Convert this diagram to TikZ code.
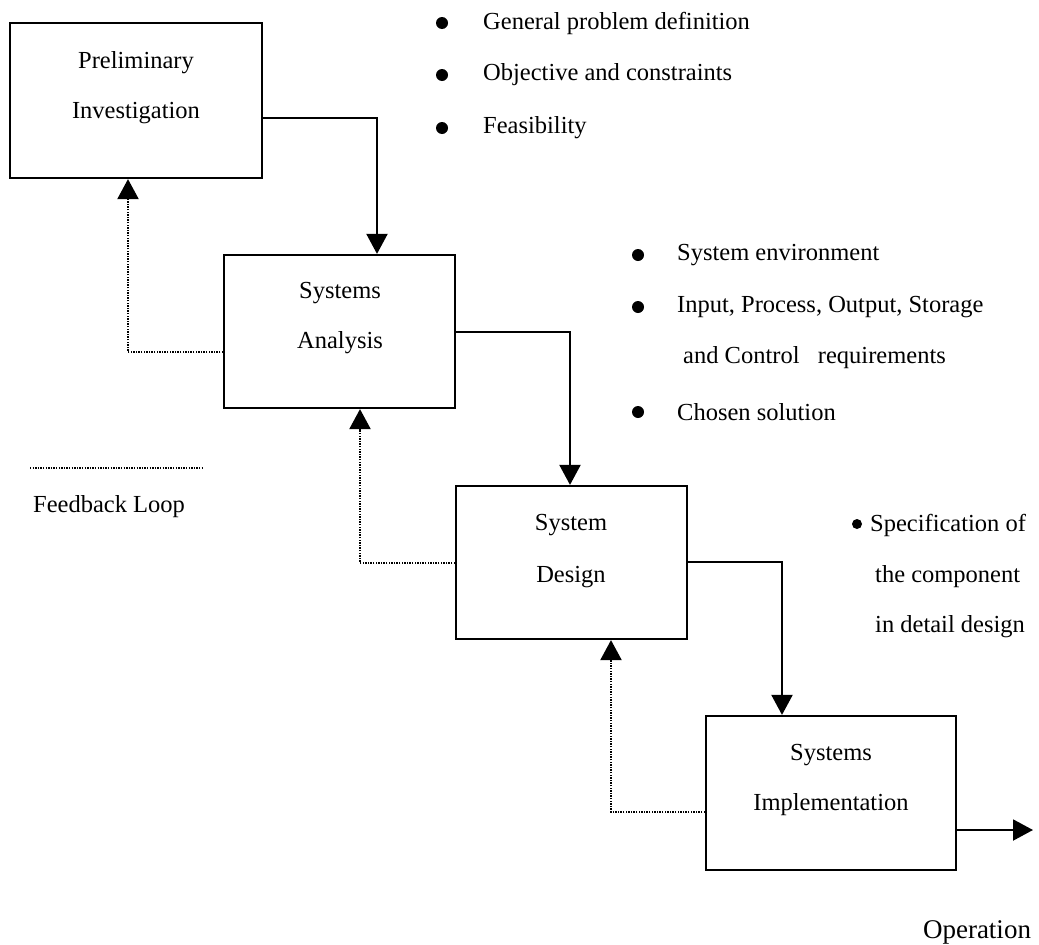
\documentclass[tikz,border=0pt]{standalone}
\usepackage{fontspec}
\setmainfont{Liberation Serif}
\usetikzlibrary{arrows.meta}
\begin{document}
\begin{tikzpicture}[x=1pt,y=-1pt,
  stage/.style={draw,line width=2.2pt,inner sep=0pt},
  boxtext/.style={font=\fontsize{24.5}{29}\selectfont,inner sep=0pt},
  note/.style={font=\fontsize{24.5}{29}\selectfont,anchor=west,inner sep=0pt},
  flow/.style={line width=2pt,-{Triangle[length=20pt,width=21pt]}},
  back/.style={line width=2.2pt,dash pattern=on 1.3pt off 1.3pt,-{Triangle[length=20pt,width=21pt]}},
  dot/.style={circle,fill=black,inner sep=0pt,minimum size=12pt}]
\useasboundingbox (0,0) rectangle (1039,945);

% stage boxes
\node[stage,minimum width=252pt,minimum height=155pt] (pi) at (136,100.5) {};
\node[stage,minimum width=231pt,minimum height=153pt] (sa) at (339.5,331.5) {};
\node[stage,minimum width=231pt,minimum height=153pt] (sd) at (571.5,562.5) {};
\node[stage,minimum width=250pt,minimum height=154pt] (si) at (831,793) {};

\node[boxtext] (pi1) at (136,63) {Preliminary};
\node[boxtext] (pi2) at (136,113) {Investigation};
\node[boxtext] (sa1) at (340,293) {Systems};
\node[boxtext] (sa2) at (340,343) {Analysis};
\node[boxtext] (sd1) at (571,525) {System};
\node[boxtext] (sd2) at (571,577) {Design};
\node[boxtext] (si1) at (831,755) {Systems};
\node[boxtext] (si2) at (831,805) {Implementation};

% forward flow
\draw[flow] (pi.east |- 0,118) -- (377,118) -- (377,0 |- sa.north);
\draw[flow] (sa.east |- 0,332) -- (570,332) -- (570,0 |- sd.north);
\draw[flow] (sd.east |- 0,562) -- (782,562) -- (782,0 |- si.north);
\coordinate (out) at (1033,830);
\draw[flow] (si.east |- out) -- (out);
\node[font=\fontsize{27}{32}\selectfont] (op) at (977,932) {Operation};

% feedback loops
\draw[back] (sa.west |- 0,352) -- (128,352) -- (128,0 |- pi.south);
\draw[back] (sd.west |- 0,563) -- (360,563) -- (360,0 |- sa.south);
\draw[back] (si.west |- 0,812) -- (611,812) -- (611,0 |- sd.south);

% legend
\coordinate (lg1) at (30,468);
\coordinate (lg2) at (203,468);
\draw[line width=2.2pt,dash pattern=on 1.3pt off 1.3pt] (lg1) -- (lg2);
\node[note] (fl) at (33,507) {Feedback Loop};

% notes
\node[dot] (b1) at (442,23) {};
\node[note] (t1) at (483,23) {General problem definition};
\node[dot] (b2) at (442,75) {};
\node[note] (t2) at (483,75) {Objective and constraints};
\node[dot] (b3) at (442,128) {};
\node[note] (t3) at (483,128) {Feasibility};

\node[dot] (b4) at (638,255) {};
\node[note] (t4) at (677,255) {System environment};
\node[dot] (b5) at (638,307) {};
\node[note] (t5) at (677,307) {Input, Process, Output, Storage};
\node[note] (t6) at (683,358) {and Control\ \ \ requirements};
\node[dot] (b6) at (638,412) {};
\node[note] (t7) at (677,412) {Chosen solution};

\node[dot,minimum size=10pt] (b7) at (857,524) {};
\node[note] (t8) at (870,525) {Specification of};
\node[note] (t9) at (875,577) {the component};
\node[note] (t10) at (875,627) {in detail design};
\end{tikzpicture}
\end{document}
